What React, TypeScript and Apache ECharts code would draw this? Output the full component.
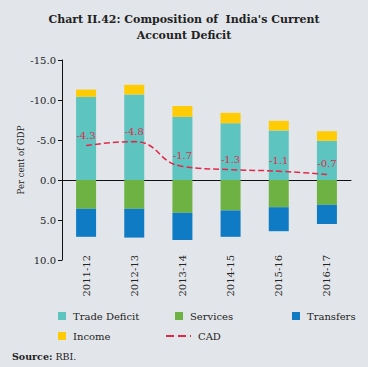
import React, { useEffect, useRef } from "react";
import * as echarts from "echarts";

const categories = ["2011-12", "2012-13", "2013-14", "2014-15", "2015-16", "2016-17"];
const tradeDeficit = [-10.4, -10.7, -7.9, -7.1, -6.2, -4.9];
const services = [3.6, 3.6, 4.1, 3.8, 3.4, 3.1];
const transfers = [3.5, 3.6, 3.4, 3.3, 3.0, 2.4];
const income = [-0.9, -1.2, -1.35, -1.3, -1.2, -1.2];
const cad = [-4.3, -4.8, -1.7, -1.3, -1.1, -0.7];
const yTicks = { min: -15, max: 10, interval: 5 };

const FONT = "DejaVu Serif";
const BG = "#E2E6EA";
const C_TRADE = "#5EC4C0";
const C_SERV = "#6FB244";
const C_TRANS = "#0F7BC4";
const C_INC = "#FFCB05";
const C_CAD = "#E0294A";

export default function App() {
  const ref = useRef<HTMLDivElement>(null);
  useEffect(() => {
    if (!ref.current) return;
    const chart = echarts.init(ref.current, null, { renderer: "svg" });
    const legendBase = {
      itemWidth: 8,
      itemHeight: 8,
      itemGap: 0,
      textStyle: { fontFamily: FONT, fontSize: 10, color: "#222", padding: [0, 0, 0, 2] },
      padding: 0,
    };
    chart.setOption({
      animation: false,
      backgroundColor: BG,
      textStyle: { fontFamily: FONT },
      title: {
        text: "Chart II.42: Composition of  India's Current\nAccount Deficit",
        left: "center",
        top: 6,
        textStyle: { fontFamily: FONT, fontSize: 11, fontWeight: "bold", color: "#222", lineHeight: 16 },
      },
      grid: { left: 62, right: 17, top: 60, bottom: 107, containLabel: false },
      legend: [
        { ...legendBase, left: 58, top: 311, data: [{ name: "Trade Deficit", icon: "rect" }] },
        { ...legendBase, left: 175, top: 311, data: [{ name: "Services", icon: "rect" }] },
        { ...legendBase, left: 292, top: 311, data: [{ name: "Transfers", icon: "rect" }] },
        { ...legendBase, left: 58, top: 331, data: [{ name: "Income", icon: "rect" }] },
        { ...legendBase, left: 165, top: 331, itemWidth: 25, data: [{ name: "CAD" }] },
      ],
      xAxis: [
        {
          type: "category",
          data: categories,
          axisLine: { onZero: true, lineStyle: { color: "#111", width: 1 } },
          axisTick: { inside: true, length: 4, lineStyle: { color: "#111" } },
          axisLabel: { show: false },
        },
        {
          type: "category",
          data: categories,
          position: "bottom",
          axisLine: { show: false, onZero: false },
          axisTick: { show: false },
          axisLabel: {
            rotate: 90,
            fontFamily: FONT,
            fontSize: 10,
            color: "#222",
            margin: -5,
          },
        },
      ],
      yAxis: {
        type: "value",
        inverse: true,
        min: yTicks.min,
        max: yTicks.max,
        interval: yTicks.interval,
        name: "Per cent of GDP",
        nameLocation: "middle",
        nameGap: 37,
        nameMoveOverlap: false,
        nameTextStyle: { fontFamily: FONT, fontSize: 8.5, color: "#222" },
        axisLine: { show: true, lineStyle: { color: "#111" } },
        axisTick: { show: true, length: 4, lineStyle: { color: "#111" } },
        splitLine: { show: false },
        axisLabel: {
          fontFamily: FONT,
          fontSize: 10,
          color: "#222",
          margin: 6,
          formatter: (v: number) => v.toFixed(1),
        },
      },
      series: [
        {
          name: "Trade Deficit",
          type: "bar",
          stack: "ca",
          data: tradeDeficit,
          barWidth: 20,
          itemStyle: { color: C_TRADE },
        },
        {
          name: "Services",
          type: "bar",
          stack: "ca",
          data: services,
          barWidth: 20,
          itemStyle: { color: C_SERV },
        },
        {
          name: "Transfers",
          type: "bar",
          stack: "ca",
          data: transfers,
          barWidth: 20,
          itemStyle: { color: C_TRANS },
        },
        {
          name: "Income",
          type: "bar",
          stack: "ca",
          data: income,
          barWidth: 20,
          itemStyle: { color: C_INC },
        },
        {
          name: "CAD",
          type: "line",
          data: cad,
          smooth: true,
          symbol: "circle",
          symbolSize: 1,
          showSymbol: true,
          lineStyle: { color: C_CAD, type: "dashed", width: 1.5 },
          itemStyle: { color: C_CAD, opacity: 0 },
          label: {
            show: true,
            position: "top",
            distance: 5,
            fontFamily: FONT,
            fontSize: 10,
            color: C_CAD,
            opacity: 1,
            formatter: (p: any) => String(p.value),
          },
          z: 5,
        },
      ],
      graphic: [
        {
          type: "text",
          left: 12,
          top: 351,
          style: {
            text: "{b|Source:} RBI.",
            fontFamily: FONT,
            fontSize: 9.5,
            fill: "#222",
            rich: { b: { fontWeight: "bold", fontFamily: FONT, fontSize: 9.5, fill: "#222" } },
          },
        },
      ],
    });
    return () => chart.dispose();
  }, []);
  return (
    <div
      ref={ref}
      style={{ width: 368, height: 367, position: "absolute", left: 0, top: 0, background: BG }}
    />
  );
}
